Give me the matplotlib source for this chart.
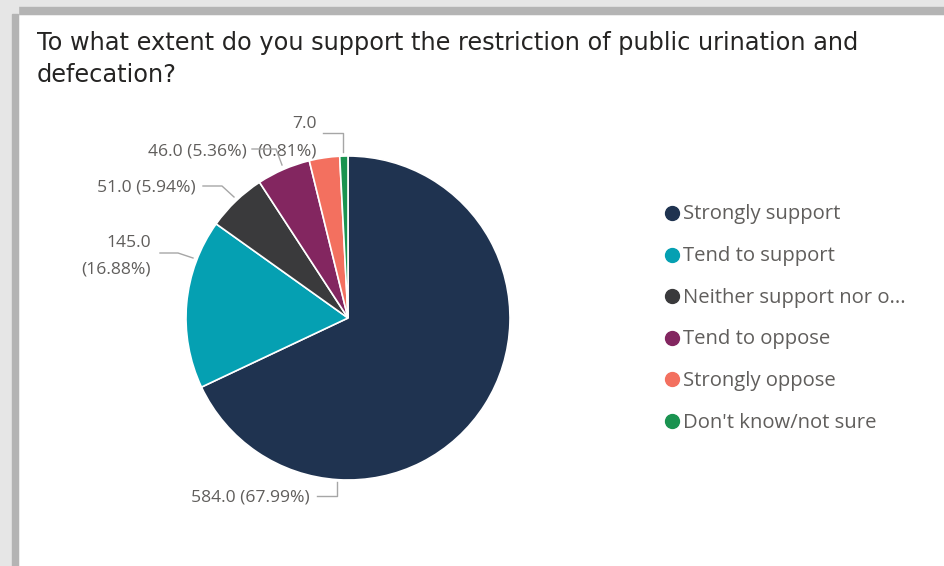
import matplotlib.pyplot as plt
from matplotlib.patches import Rectangle
from matplotlib.lines import Line2D

categories = ["Strongly support", "Tend to support", "Neither support nor o...",
              "Tend to oppose", "Strongly oppose", "Don't know/not sure"]
counts = [584, 145, 51, 46, 26, 7]
colors = ["#1F3350", "#05A0B2", "#3A3A3C", "#832660", "#F3705F", "#1A9350"]

W, H = 944, 566


def px(x, y):
    # image pixel -> figure fraction
    return x / W, 1 - y / H


fig = plt.figure(figsize=(W / 100, H / 100), dpi=100)
fig.patch.set_facecolor("white")

# grey frame / shadow of the visual
fig.patches.append(Rectangle(px(0, 14), 1, 14 / H, transform=fig.transFigure, color="#E6E6E6", zorder=0))
fig.patches.append(Rectangle(px(0, 14), 1, 7 / H, transform=fig.transFigure, color="#B4B4B4", zorder=0))
fig.patches.append(Rectangle(px(0, H), 18 / W, 1, transform=fig.transFigure, color="#E6E6E6", zorder=0))
fig.patches.append(Rectangle(px(12, H), 6 / W, 1 - 14 / H, transform=fig.transFigure, color="#B4B4B4", zorder=0))

# title
title_font = dict(fontsize=17.3, family=["DejaVu Sans"], color="#252423", va="center")
fig.text(*px(37, 43), "To what extent do you support the restriction of public urination and", **title_font)
fig.text(*px(37, 75), "defecation?", **title_font)

# pie
cx, cy, r = 348, 318, 162
ax = fig.add_axes([(cx - r) / W, 1 - (cy + r) / H, 2 * r / W, 2 * r / H])
ax.pie(counts, colors=colors, startangle=90, counterclock=False,
       wedgeprops=dict(linewidth=1.2, edgecolor="white"))
ax.set_aspect("auto")
ax.set_xlim(-1, 1)
ax.set_ylim(-1, 1)
ax.axis("off")

total = sum(counts)
pct = [c / total * 100 for c in counts]
lab_font = dict(fontsize=12.6, family=["Open Sans", "DejaVu Sans"], color="#605E5C")
lc = "#A6A6A6"

# data labels with leader lines (Power BI style)
fig.text(*px(310, 498), f"{counts[0]:.1f} ({pct[0]:.2f}%)", ha="right", va="center", **lab_font)
fig.add_artist(Line2D([317 / W, 337 / W, 337 / W], [1 - 496 / H, 1 - 496 / H, 1 - 482 / H],
                      transform=fig.transFigure, color=lc, lw=1))

fig.text(*px(151, 243), f"{counts[1]:.1f}", ha="right", va="center", **lab_font)
fig.text(*px(151, 269), f"({pct[1]:.2f}%)", ha="right", va="center", **lab_font)
fig.add_artist(Line2D([160 / W, 178 / W, 193 / W], [1 - 253 / H, 1 - 253 / H, 1 - 258 / H],
                      transform=fig.transFigure, color=lc, lw=1))

fig.text(*px(196, 188), f"{counts[2]:.1f} ({pct[2]:.2f}%)", ha="right", va="center", **lab_font)
fig.add_artist(Line2D([203 / W, 222 / W, 234 / W], [1 - 186 / H, 1 - 186 / H, 1 - 197 / H],
                      transform=fig.transFigure, color=lc, lw=1))

fig.text(*px(247, 151), f"{counts[3]:.1f} ({pct[3]:.2f}%)", ha="right", va="center", **lab_font)
fig.add_artist(Line2D([252 / W, 276 / W, 282 / W], [1 - 149 / H, 1 - 149 / H, 1 - 165 / H],
                      transform=fig.transFigure, color=lc, lw=1, zorder=5))

fig.text(*px(317, 124), f"{counts[5]:.1f}", ha="right", va="center", **lab_font)
fig.text(*px(317, 151), f"({pct[5]:.2f}%)", ha="right", va="center", **lab_font)
fig.add_artist(Line2D([323 / W, 343 / W, 343 / W], [1 - 133 / H, 1 - 133 / H, 1 - 152 / H],
                      transform=fig.transFigure, color=lc, lw=1))

# legend
for i, (name, col) in enumerate(zip(categories, colors)):
    y = 213 + i * 41.6
    fig.add_artist(Line2D([672 / W], [1 - y / H], marker="o", markersize=10,
                          color=col, transform=fig.transFigure, linestyle="none"))
    fig.text(*px(683, y + 1.5), name, va="center", fontsize=14.6,
             family=["Open Sans", "DejaVu Sans"], color="#605E5C")

fig.savefig("out.png", dpi=100)
